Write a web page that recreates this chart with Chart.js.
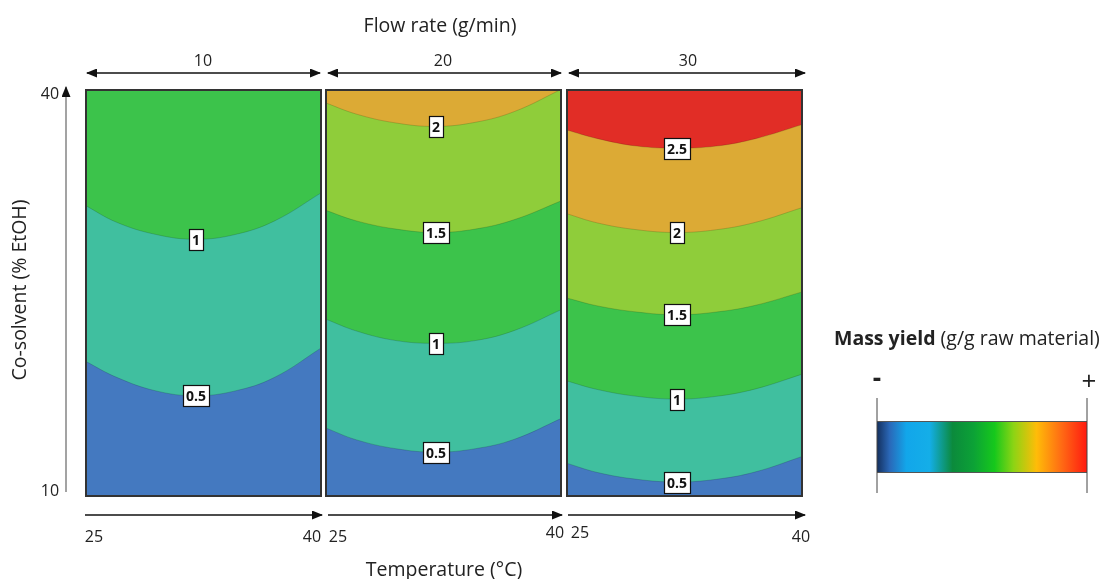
<!DOCTYPE html>
<html>
<head>
<meta charset="utf-8">
<script src="https://cdn.jsdelivr.net/npm/chart.js@4.4.1/dist/chart.umd.min.js"></script>
<style>
  html,body{margin:0;padding:0;background:#fff;}
  #page{position:relative;width:1115px;height:579px;overflow:hidden;font-family:"Open Sans",sans-serif;color:#222;}
  .panel{position:absolute;top:89px;width:237px;height:408px;}
  #deco{position:absolute;left:0;top:0;}
  #bar{position:absolute;left:877px;top:421px;width:210px;height:52px;box-sizing:border-box;border-top:1px solid #555;border-bottom:1px solid #555;
    background:linear-gradient(to right,#14305e 0%,#2a68b8 6%,#12a6ea 14%,#14aee8 25%,#0b8a3c 36%,#0ca236 46%,#16c81c 56%,#8cd414 65%,#ffbc08 76%,#ff6a14 88%,#ff1a10 100%);}
</style>
</head>
<body>
<div id="page">
  <div class="panel" style="left:85px"><canvas id="p1" width="237" height="408"></canvas></div>
  <div class="panel" style="left:325px"><canvas id="p2" width="237" height="408"></canvas></div>
  <div class="panel" style="left:566px"><canvas id="p3" width="237" height="408"></canvas></div>
  <div id="bar"></div>
  <svg id="deco" width="1115" height="579" font-family="Open Sans, sans-serif" fill="#222">
    <defs>
      <marker id="ah" markerWidth="11" markerHeight="9" refX="10" refY="4.5" orient="auto-start-reverse" markerUnits="userSpaceOnUse">
        <path d="M0,0 L11,4.5 L0,9 z" fill="#111"/>
      </marker>
    </defs>
    <text x="440" y="32" font-size="19.5" text-anchor="middle">Flow rate (g/min)</text>
    <line x1="87" y1="73" x2="320" y2="73" stroke="#111" stroke-width="1.5" marker-start="url(#ah)" marker-end="url(#ah)"/>
    <line x1="328" y1="73" x2="561" y2="73" stroke="#111" stroke-width="1.5" marker-start="url(#ah)" marker-end="url(#ah)"/>
    <line x1="569" y1="73" x2="805" y2="73" stroke="#111" stroke-width="1.5" marker-start="url(#ah)" marker-end="url(#ah)"/>
    <text x="203" y="66" font-size="16" text-anchor="middle">10</text>
    <text x="443" y="66" font-size="16" text-anchor="middle">20</text>
    <text x="688" y="66" font-size="16" text-anchor="middle">30</text>

    <line x1="66" y1="492" x2="66" y2="87" stroke="#666" stroke-width="1.2" marker-end="url(#ah)"/>
    <text x="50" y="99" font-size="16" text-anchor="middle">40</text>
    <text x="50" y="496" font-size="16" text-anchor="middle">10</text>
    <text transform="translate(26,290) rotate(-90)" font-size="19.5" text-anchor="middle">Co-solvent (% EtOH)</text>

    <line x1="85" y1="515" x2="322" y2="515" stroke="#111" stroke-width="1.5" marker-end="url(#ah)"/>
    <line x1="328" y1="515" x2="562" y2="515" stroke="#111" stroke-width="1.5" marker-end="url(#ah)"/>
    <line x1="568" y1="515" x2="805" y2="515" stroke="#111" stroke-width="1.5" marker-end="url(#ah)"/>
    <text x="94" y="542" font-size="16" text-anchor="middle">25</text>
    <text x="312" y="542" font-size="16" text-anchor="middle">40</text>
    <text x="338" y="542" font-size="16" text-anchor="middle">25</text>
    <text x="555" y="538" font-size="16" text-anchor="middle">40</text>
    <text x="580" y="538" font-size="16" text-anchor="middle">25</text>
    <text x="801" y="542" font-size="16" text-anchor="middle">40</text>
    <text x="444" y="576" font-size="19.5" text-anchor="middle">Temperature (°C)</text>

    <text x="834" y="345" font-size="19.5"><tspan font-weight="bold">Mass yield</tspan> (g/g raw material)</text>
    <text x="877" y="387" font-size="26" text-anchor="middle" font-weight="bold">-</text>
    <text x="1089" y="390" font-size="26" text-anchor="middle">+</text>
    <line x1="877" y1="398" x2="877" y2="493" stroke="#444" stroke-width="1"/>
    <line x1="1087" y1="398" x2="1087" y2="493" stroke="#444" stroke-width="1"/>
  </svg>
</div>
<script>
const temps = [25, 27, 29.5, 32, 34.5, 37, 40];

// band colours: <0.5, 0.5-1, 1-1.5, 1.5-2, 2-2.5, >2.5
const bandColors = ['#4479c0', '#40bf9f', '#3cc34b', '#8fcd3a', '#dcaa35', '#e12d26'];
const levelNames = ['0.5', '1', '1.5', '2', '2.5'];

// flow rate 10 g/min : co-solvent (% EtOH) of each contour
const f10_c05 = [20.0, 18.8, 17.8, 17.45, 17.8, 18.8, 21.0];
const f10_c10 = [31.45, 30.2, 29.3, 28.95, 29.3, 30.3, 32.4];

// flow rate 20 g/min
const f20_c05 = [15.1, 14.2, 13.55, 13.3, 13.55, 14.25, 15.8];
const f20_c10 = [23.1, 22.2, 21.5, 21.3, 21.5, 22.25, 23.8];
const f20_c15 = [31.1, 30.3, 29.7, 29.45, 29.7, 30.4, 31.8];
const f20_c20 = [39.0, 38.15, 37.5, 37.25, 37.55, 38.35, 40.0];

// flow rate 30 g/min
const f30_c05 = [12.5, 11.8, 11.3, 11.1, 11.3, 11.85, 13.0];
const f30_c10 = [18.55, 17.9, 17.4, 17.2, 17.4, 17.95, 19.05];
const f30_c15 = [24.65, 24.05, 23.6, 23.4, 23.6, 24.1, 25.1];
const f30_c20 = [30.85, 30.15, 29.65, 29.45, 29.65, 30.2, 31.3];
const f30_c25 = [37.0, 36.35, 35.8, 35.65, 35.8, 36.35, 37.4];

const LABEL_IDX = 3;

const bgPlugin = {
  id: 'topBand',
  beforeDraw(chart, args, opts) {
    const {ctx, chartArea: a} = chart;
    ctx.save();
    ctx.fillStyle = opts.color;
    ctx.fillRect(a.left, a.top, a.right - a.left, a.bottom - a.top);
    ctx.restore();
  }
};

const labelPlugin = {
  id: 'contourLabels',
  afterDatasetsDraw(chart) {
    const ctx = chart.ctx;
    ctx.save();
    ctx.font = 'bold 14px "Open Sans", sans-serif';
    ctx.textAlign = 'center';
    ctx.textBaseline = 'middle';
    chart.data.datasets.forEach((ds, i) => {
      const pt = chart.getDatasetMeta(i).data[LABEL_IDX];
      const w = Math.round(ctx.measureText(ds.label).width + 6);
      const h = 21;
      const y = Math.min(pt.y, chart.chartArea.bottom - h / 2 - 3);
      const x0 = Math.round(pt.x - w / 2), y0 = Math.round(y - h / 2);
      ctx.fillStyle = '#fff';
      ctx.fillRect(x0, y0, w, h);
      ctx.strokeStyle = '#111';
      ctx.lineWidth = 1.2;
      ctx.strokeRect(x0 + 0.5, y0 + 0.5, w, h);
      ctx.fillStyle = '#111';
      ctx.fillText(ds.label, pt.x + 0.5, y + 1.5);
    });
    ctx.restore();
  }
};

const framePlugin = {
  id: 'frame',
  afterDraw(chart) {
    const {ctx, chartArea: a} = chart;
    ctx.save();
    ctx.strokeStyle = '#333';
    ctx.lineWidth = 2;
    ctx.strokeRect(a.left + 1, a.top + 1, a.right - a.left - 2, a.bottom - a.top - 2);
    ctx.restore();
  }
};

function makePanel(id, contours) {
  const datasets = contours.map((vals, k) => ({
    label: levelNames[k],
    data: temps.map((t, j) => ({x: t, y: vals[j]})),
    fill: 'start',
    backgroundColor: bandColors[k],
    borderColor: 'rgba(0,0,0,0.15)',
    borderWidth: 1,
    pointRadius: 0,
    tension: 0.4
  }));
  new Chart(document.getElementById(id), {
    type: 'line',
    data: {datasets},
    options: {
      responsive: false,
      animation: false,
      layout: {padding: 0},
      events: [],
      scales: {
        x: {type: 'linear', min: 25, max: 40, display: false},
        y: {type: 'linear', min: 10, max: 40, display: false}
      },
      plugins: {
        legend: {display: false},
        tooltip: {enabled: false},
        topBand: {color: bandColors[contours.length]}
      }
    },
    plugins: [bgPlugin, labelPlugin, framePlugin]
  });
}

makePanel('p1', [f10_c05, f10_c10]);
makePanel('p2', [f20_c05, f20_c10, f20_c15, f20_c20]);
makePanel('p3', [f30_c05, f30_c10, f30_c15, f30_c20, f30_c25]);
</script>
</body>
</html>
